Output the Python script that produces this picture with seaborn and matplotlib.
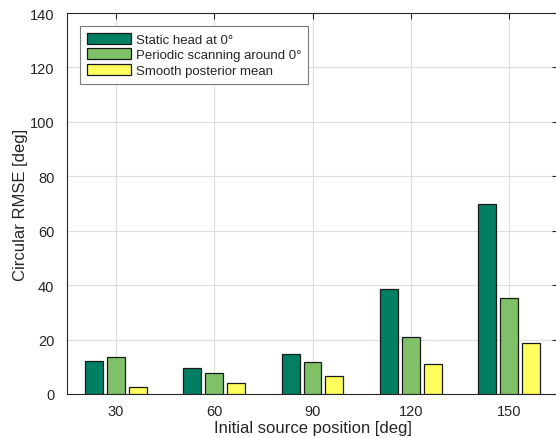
import numpy as np
import pandas as pd
import matplotlib
matplotlib.use("Agg")
import matplotlib.pyplot as plt
import seaborn as sns

# values
positions = ["30", "60", "90", "120", "150"]
static_head = [12.1, 9.6, 14.8, 38.5, 69.8]
periodic_scan = [13.5, 7.7, 11.9, 20.9, 35.4]
smooth_mean = [2.7, 3.9, 6.6, 11.2, 18.8]
labels = ["Static head at 0°", "Periodic scanning around 0°", "Smooth posterior mean"]
colors = ["#007F62", "#80C066", "#FFFF5E"]

df = pd.DataFrame({
    "position": positions * 3,
    "rmse": static_head + periodic_scan + smooth_mean,
    "method": [labels[0]] * 5 + [labels[1]] * 5 + [labels[2]] * 5,
})

sns.set_style("white")
plt.rcParams["font.family"] = ["Liberation Sans", "DejaVu Sans"]

fig = plt.figure(figsize=(5.56, 4.39), dpi=100)
ax = fig.add_axes([67 / 556, 1 - 395 / 439, 491 / 556, 381 / 439])

sns.barplot(data=df, x="position", y="rmse", hue="method", palette=colors,
            saturation=1, width=0.67, gap=0.18, edgecolor="#1a1a1a",
            linewidth=0.9, errorbar=None, ax=ax, zorder=3)

ax.set_xlim(-0.5, 4.5)
ax.set_ylim(0, 140)
ax.set_yticks(np.arange(0, 141, 20))
ax.grid(True, color="#dedede", linewidth=0.8, zorder=0)
ax.set_axisbelow(True)
ax.tick_params(direction="in", length=4, width=0.8, top=True, right=True,
               labelsize=10.5, colors="#262626")
ax.tick_params(axis="x", pad=7.5)
ax.tick_params(axis="y", pad=9)
for s in ax.spines.values():
    s.set_color("#262626")
    s.set_linewidth(0.8)
    s.set_visible(True)

ax.set_xlabel("Initial source position [deg]", fontsize=12, color="#262626", labelpad=1)
ax.set_ylabel("Circular RMSE [deg]", fontsize=12, color="#262626", labelpad=1)

leg = ax.legend(loc="upper left", bbox_to_anchor=(13 / 491, 1 - 13 / 381), fontsize=9.5,
                fancybox=False, framealpha=1, edgecolor="#7a7a7a",
                handlelength=3.4, handleheight=0.9, labelspacing=0.2,
                borderpad=0.5, handletextpad=0.35, borderaxespad=0)
leg.get_frame().set_linewidth(0.8)

fig.savefig("out.png", dpi=100)
